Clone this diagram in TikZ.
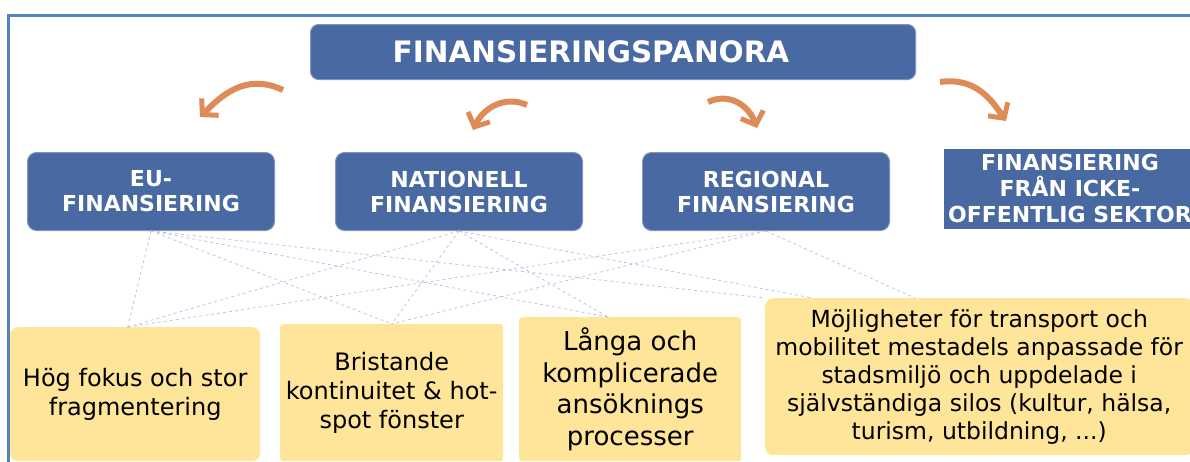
\documentclass[tikz,border=0pt]{standalone}
\usepackage{fontspec}
\setmainfont{DejaVu Sans}
\usetikzlibrary{calc}
\usetikzlibrary{arrows.meta}
\definecolor{boxblue}{RGB}{73,105,162}
\definecolor{noteyellow}{RGB}{255,229,153}
\definecolor{linkblue}{RGB}{184,199,230}
\definecolor{brushorange}{RGB}{221,139,87}
\definecolor{frameblue}{RGB}{84,130,190}

\begin{document}
\begin{tikzpicture}[x=1pt,y=-1pt,
	bluebox/.style={fill=boxblue,draw=boxblue!70!white,line width=1pt,rounded corners=9pt,text=white,align=center,font=\bfseries\fontsize{22}{25}\selectfont,minimum width=247pt,minimum height=78pt,inner sep=0pt,anchor=north west},
	notebox/.style={fill=noteyellow,align=center,font=\fontsize{24}{28.5}\selectfont,inner sep=0pt,anchor=north west,rounded corners=3pt},
	link/.style={draw=linkblue,dashed,line width=0.8pt},
	brush/.style={draw=brushorange,line width=6pt,-{Straight Barb[length=11pt,width=24pt,line width=5pt]}}]
	\useasboundingbox (0,0) rectangle (1190,461);
	\clip (0,0) rectangle (1190,461);
		\coordinate (T) at (310,24);
		\coordinate (E) at (27,152);
		\coordinate (N) at (335,152);
		\coordinate (R) at (642,152);
		\coordinate (I) at (943,148);
		\coordinate (H) at (10,327);
		\coordinate (B) at (280,324);
		\coordinate (L) at (519,317);
		\coordinate (M) at (765,298);
		\draw[frameblue,line width=2.2pt] (8.5,470) |- (1200,15.5);
		\draw (T) node[bluebox,minimum width=605pt,minimum height=55pt,rounded corners=8pt,font=\bfseries\fontsize{29.5}{34}\selectfont] (title) {FINANSIERINGSPANORA\hspace*{44pt}};
		\draw (E) node[bluebox] (eu) {EU-\\FINANSIERING};
		\draw (N) node[bluebox] (nat) {NATIONELL\\FINANSIERING};
		\draw (R) node[bluebox] (reg) {REGIONAL\\FINANSIERING};
		\draw (I) node[bluebox,draw=none,rounded corners=0pt,minimum width=253pt,minimum height=80pt,font=\bfseries\fontsize{22}{26}\selectfont] (icke) {FINANSIERING\\FRÅN ICKE-\\OFFENTLIG SEKTOR};
		\draw (H) node[notebox,minimum width=250pt,minimum height=134pt,rounded corners=8pt] (hog) {Hög fokus och stor\\fragmentering};
		\draw (B) node[notebox,minimum width=223pt,minimum height=137pt,font=\fontsize{24}{29}\selectfont] (brist) {Bristande\\kontinuitet \& hot-\\spot fönster};
		\draw (L) node[notebox,minimum width=222pt,minimum height=144pt,font=\fontsize{26}{31.5}\selectfont] (langa) {Långa och\\komplicerade\\ansöknings\\processer};
		\draw (M) node[notebox,minimum width=428pt,minimum height=157pt,rounded corners=8pt,font=\fontsize{23.5}{28}\selectfont] (moj) {Möjligheter för transport och\\mobilitet mestadels anpassade för\\stadsmiljö och uppdelade i\\självständiga silos (kultur, hälsa,\\turism, utbildning, ...)};
		\draw[link] (eu.south) -- ($(hog.north west)!0.47!(hog.north east)$);
		\draw[link] (eu.south) -- (brist.north);
		\draw[link] (eu.south) -- ($(langa.north west)!0.4!(langa.north east)$);
		\draw[link] (eu.south) -- (moj.north west);
		\draw[link] (nat.south) -- ($(hog.north west)!0.47!(hog.north east)$);
		\draw[link] (nat.south) -- (brist.north);
		\draw[link] (nat.south) -- ($(langa.north west)!0.4!(langa.north east)$);
		\draw[link] (nat.south) -- ($(moj.north west)!0.11!(moj.north east)$);
		\draw[link] (reg.south) -- ($(hog.north west)!0.47!(hog.north east)$);
		\draw[link] (reg.south) -- (brist.north);
		\draw[link] (reg.south) -- ($(moj.north west)!0.35!(moj.north east)$);
		\coordinate (A1) at (283,90);
		\coordinate (B1) at (200,117);
		\coordinate (A2) at (527,105);
		\coordinate (B2) at (473,130);
		\coordinate (A3) at (708,102);
		\coordinate (B3) at (757,128);
		\coordinate (A4) at (940,82);
		\coordinate (B4) at (1006,121);
		\draw[brush] (A1) .. controls +(-38,-18) and +(20,-20) .. (B1);
		\draw[brush] (A2) .. controls +(-22,-10) and +(10,-22) .. (B2);
		\draw[brush] (A3) .. controls +(22,-10) and +(-8,-22) .. (B3);
		\draw[brush] (A4) .. controls +(35,-5) and +(-15,-22) .. (B4);
\end{tikzpicture}
\end{document}
